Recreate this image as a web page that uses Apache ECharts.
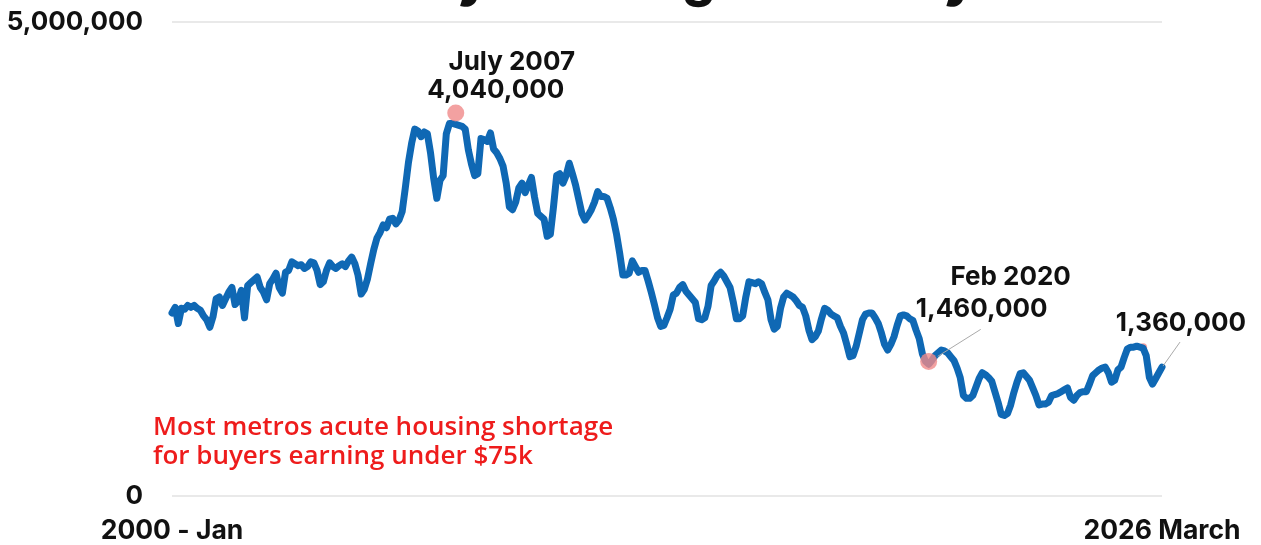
<!DOCTYPE html>
<html>
<head>
<meta charset="utf-8">
<script src="https://cdn.jsdelivr.net/npm/echarts@6/dist/echarts.min.js"></script>
<style>
html,body{margin:0;padding:0;background:#fff;}
#chart{width:1261px;height:545px;}
</style>
</head>
<body>
<div id="chart"></div>
<script>
// Monthly values, in thousands, Jan 2000 .. Mar 2026
const y2000 = [1930,1990,1820,1980,1970,2010,1990,2010,1980,1960,1900,1860];
const y2001 = [1780,1890,2080,2100,2010,2080,2150,2200,2020,2060,2170,1880];
const y2002 = [2220,2250,2280,2310,2200,2150,2070,2240,2290,2350,2200,2140];
const y2003 = [2360,2380,2470,2450,2430,2440,2400,2420,2470,2460,2380,2230];
const y2004 = [2260,2380,2460,2420,2400,2430,2450,2420,2480,2520,2450,2330];
const y2005 = [2130,2180,2290,2450,2600,2720,2780,2860,2830,2920,2930,2870];
const y2006 = [2910,3000,3250,3520,3720,3870,3850,3790,3840,3820,3620,3350];
const y2007 = [3140,3330,3380,3820,3930,3930,3920,3910,3900,3870,3650,3500];
const y2008 = [3380,3400,3770,3760,3740,3830,3660,3620,3560,3480,3300,3050];
const y2009 = [3020,3100,3250,3300,3200,3280,3360,3150,2980,2950,2920,2740];
const y2010 = [2760,3050,3380,3400,3300,3380,3510,3400,3280,3130,2980,2910];
const y2011 = [2960,3020,3100,3210,3160,3160,3140,3040,2920,2760,2560,2330];
const y2012 = [2330,2350,2480,2420,2360,2380,2380,2270,2150,2020,1880,1790];
const y2013 = [1800,1880,1970,2120,2140,2200,2230,2160,2120,2080,2040,1870];
const y2014 = [1860,1880,2000,2220,2270,2330,2360,2320,2260,2200,2050,1870];
const y2015 = [1870,1900,2100,2260,2250,2240,2260,2240,2150,2070,1860,1760];
const y2016 = [1790,1980,2100,2140,2120,2100,2060,2010,1990,1900,1750,1650];
const y2017 = [1680,1740,1870,1980,1960,1920,1900,1880,1790,1720,1600,1470];
const y2018 = [1480,1580,1720,1860,1920,1930,1930,1880,1820,1720,1600,1540];
const y2019 = [1600,1680,1800,1900,1910,1900,1870,1850,1750,1660,1500,1420];
const y2020 = [1390,1430,1480,1510,1540,1530,1510,1470,1430,1350,1250,1060];
const y2021 = [1030,1030,1060,1150,1240,1300,1280,1250,1210,1100,990,860];
const y2022 = [850,870,960,1090,1200,1290,1300,1260,1220,1140,1060,960];
const y2023 = [970,970,990,1060,1070,1080,1100,1120,1140,1040,1010,1060];
const y2024 = [1090,1100,1100,1180,1270,1300,1330,1350,1360,1300,1200,1220];
const y2025 = [1330,1360,1460,1550,1570,1570,1580,1570,1560,1480,1250,1180];
const y2026 = [1240,1300,1360];

const values = [].concat(y2000,y2001,y2002,y2003,y2004,y2005,y2006,y2007,y2008,y2009,
  y2010,y2011,y2012,y2013,y2014,y2015,y2016,y2017,y2018,y2019,y2020,y2021,y2022,y2023,
  y2024,y2025,y2026);

const monthNames = ['Jan','Feb','Mar','Apr','May','Jun','Jul','Aug','Sep','Oct','Nov','Dec'];
const categories = [];
for (let y = 2000; y <= 2026; y++) {
  for (let m = 0; m < 12; m++) {
    if (y === 2026 && m > 2) break;
    categories.push(y + ' ' + monthNames[m]);
  }
}

const xTickFirst = '2000 - Jan';
const xTickLast = '2026 March';
const yTickLabels = {0: '0', 5000: '5,000,000'};

// Annotations: [category index, value in thousands]
const peakPoint = [90, 4040];
const peakText = ['July 2007', '4,040,000'];
const febPoint = [240, 1420];
const febText = ['Feb 2020', '1,460,000'];
const lastPoint = [values.length - 1, values[values.length - 1]];
const lastText = '1,360,000';
const smallDot = [308, 1570];
const noteLines = ['Most metros acute housing shortage', 'for buyers earning under $75k'];
const titleText = 'Monthly Housing Inventory';

const FONT = 'Inter, "Open Sans", sans-serif';
const chart = echarts.init(document.getElementById('chart'));

chart.setOption({
  animation: false,
  backgroundColor: '#ffffff',
  grid: {left: 172, right: 99, top: 22, bottom: 49, containLabel: false},
  xAxis: {
    type: 'category',
    data: categories,
    boundaryGap: false,
    axisLine: {show: false},
    axisTick: {show: false},
    splitLine: {show: false},
    axisLabel: {
      interval: function (i) { return i === 0 || i === categories.length - 1; },
      formatter: function (v, i) { return i === 0 ? xTickFirst : (i === categories.length - 1 ? xTickLast : ''); },
      margin: 22,
      color: '#111',
      fontFamily: FONT,
      fontWeight: 'bold',
      fontSize: 26.5
    }
  },
  yAxis: {
    type: 'value',
    min: 0, max: 5000, interval: 5000,
    axisLine: {show: false},
    axisTick: {show: false},
    splitLine: {lineStyle: {color: '#e2e2e2', width: 1.5}},
    axisLabel: {
      formatter: function (v) { return yTickLabels[v] || ''; },
      margin: 29,
      color: '#111',
      fontFamily: FONT,
      fontWeight: 'bold',
      fontSize: 26
    }
  },
  series: [
    {
      type: 'line',
      data: values,
      showSymbol: false,
      symbol: 'none',
      lineStyle: {color: '#0f68b4', width: 7, join: 'round', cap: 'round'},
      z: 2
    },
    {
      type: 'scatter',
      data: [peakPoint, febPoint],
      symbolSize: 17,
      itemStyle: {color: '#f08a8a'},
      z: 3
    },
    {
      type: 'scatter',
      data: [smallDot],
      symbolSize: 8,
      itemStyle: {color: '#f08a8a'},
      z: 1
    }
  ]
});

function px(p) { return chart.convertToPixel({gridIndex: 0}, p); }
const pk = px(peakPoint), fb = px(febPoint), ls = px(lastPoint);
const bold = {fontFamily: FONT, fontWeight: 'bold', fontSize: 26, fill: '#111', align: 'center', verticalAlign: 'middle'};
function txt(x, y, s, extra) {
  return {type: 'text', x: x, y: y, style: Object.assign({}, bold, {text: s}, extra || {}), z: 10};
}
const red = {fontFamily: '"Open Sans", sans-serif', fontWeight: 600, fontSize: 26, fill: '#ee1c1c', verticalAlign: 'middle'};
chart.setOption({
  graphic: [
    txt(625, -20, titleText, {fontSize: 52, fontWeight: 800}),
    txt(pk[0] + 56, pk[1] - 51, peakText[0]),
    txt(pk[0] + 40, pk[1] - 23, peakText[1]),
    txt(fb[0] + 82, fb[1] - 84, febText[0]),
    txt(fb[0] + 53, fb[1] - 52, febText[1]),
    txt(ls[0] + 19, ls[1] - 44, lastText),
    {type: 'line', shape: {x1: fb[0] + 52, y1: fb[1] - 32, x2: fb[0] + 9, y2: fb[1] - 5},
     style: {stroke: '#aaaaaa', lineWidth: 1}, z: 9},
    {type: 'line', shape: {x1: ls[0] + 18, y1: ls[1] - 25, x2: ls[0] + 1, y2: ls[1] - 1},
     style: {stroke: '#aaaaaa', lineWidth: 1}, z: 9},
    {type: 'text', x: 153, y: 428, style: Object.assign({text: noteLines[0]}, red), z: 10},
    {type: 'text', x: 153, y: 457, style: Object.assign({text: noteLines[1]}, red), z: 10}
  ]
});
</script>
</body>
</html>
